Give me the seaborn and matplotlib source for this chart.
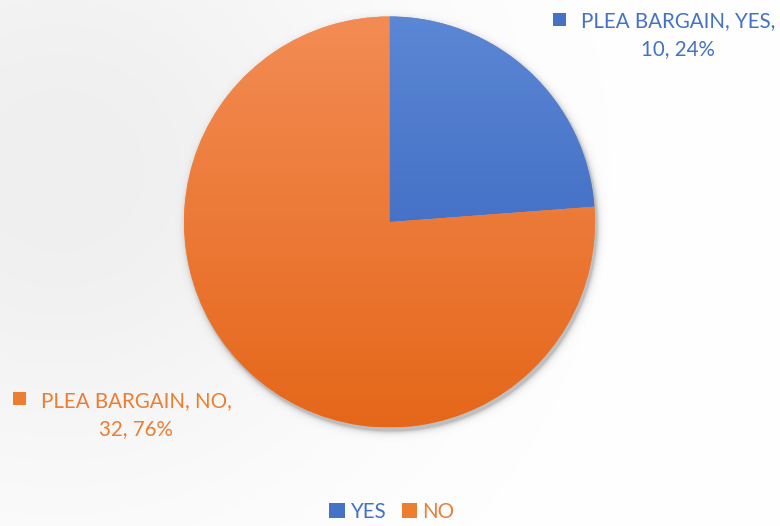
import numpy as np
import matplotlib
matplotlib.use("Agg")
import matplotlib.pyplot as plt
import seaborn as sns
from matplotlib.colors import LinearSegmentedColormap
from matplotlib.patches import Rectangle, Patch

sns.set_style("white")
plt.rcParams["font.family"] = ["Lato", "DejaVu Sans"]

# data
series_name = "PLEA BARGAIN"
categories = ["YES", "NO"]
counts = [10, 32]
text_colors = ["#4472c4", "#ed7d31"]
grad_top = ["#5c87d5", "#f38c54"]
grad_bottom = ["#2f5cb9", "#e5671a"]

W, H = 780, 526
fig = plt.figure(figsize=(W / 100, H / 100), dpi=100)
ax = fig.add_axes([0, 0, 1, 1])

# soft grey backdrop, darker toward the upper left
yy, xx = np.mgrid[0:H, 0:W]
shade = 16 * np.exp(-(((xx - 60) / 330.0) ** 2 + ((yy - 170) / 320.0) ** 2))
bg = (255 - shade) / 255.0
ax.imshow(np.dstack([bg, bg, bg]), extent=(0, W, 0, H), origin="upper",
          zorder=0, interpolation="bilinear")

cx, cy, R = 389.5, H - 222, 205.5

# blurred drop shadow under the pie
sx, sy = cx + 1.5, cy - 3.0
d = np.hypot(xx - sx, (H - yy) - sy)
alpha = 0.38 * np.exp(-np.clip(d - R, 0, None) / 2.5)
alpha[d < R] = 0.38
shadow = np.zeros((H, W, 4))
shadow[..., :3] = 0.35
shadow[..., 3] = alpha
ax.imshow(shadow, extent=(0, W, 0, H), origin="upper", zorder=1,
          interpolation="bilinear")

wedges, _ = ax.pie(counts, startangle=90, counterclock=False,
                   center=(cx, cy), radius=R, colors=grad_top,
                   wedgeprops=dict(linewidth=0))
for w in wedges:
    w.set_zorder(2)

# vertical gradient inside each slice
grad = np.linspace(0, 1, 256).reshape(-1, 1)
for w, c0, c1 in zip(wedges, grad_top, grad_bottom):
    cmap = LinearSegmentedColormap.from_list("g", [c0, c1])
    im = ax.imshow(grad, cmap=cmap, aspect="auto", origin="upper",
                   extent=(cx - R, cx + R, cy - R, cy + R), zorder=3,
                   interpolation="bilinear")
    im.set_clip_path(w)

ax.set_xlim(0, W)
ax.set_ylim(0, H)
ax.set_aspect("equal")
ax.axis("off")

# data labels with colour keys
total = sum(counts)
label_pos = [(678, H - 35), (136, H - 415)]
key_pos = [(553, H - 26), (13, H - 405)]
for cat, n, col, (tx, ty), (kx, ky) in zip(categories, counts, text_colors,
                                            label_pos, key_pos):
    pct = round(100 * n / total)
    ax.text(tx, ty, f"{series_name}, {cat},\n{n}, {pct}%", color=col,
            fontsize=14.8, ha="center", va="center", linespacing=1.55, zorder=5)
    ax.add_patch(Rectangle((kx, ky), 13, 13, facecolor=col, edgecolor="none",
                           zorder=5))

handles = [Patch(facecolor=c, edgecolor="none") for c in text_colors]
leg = ax.legend(handles, categories, loc="center", bbox_to_anchor=(392 / W, 1 - 512 / H),
                ncol=2, frameon=False, fontsize=14.8, handlelength=0.75,
                handleheight=0.75, handletextpad=0.25, columnspacing=0.8)
for t, c in zip(leg.get_texts(), text_colors):
    t.set_color(c)

fig.savefig("out.png", dpi=100)
